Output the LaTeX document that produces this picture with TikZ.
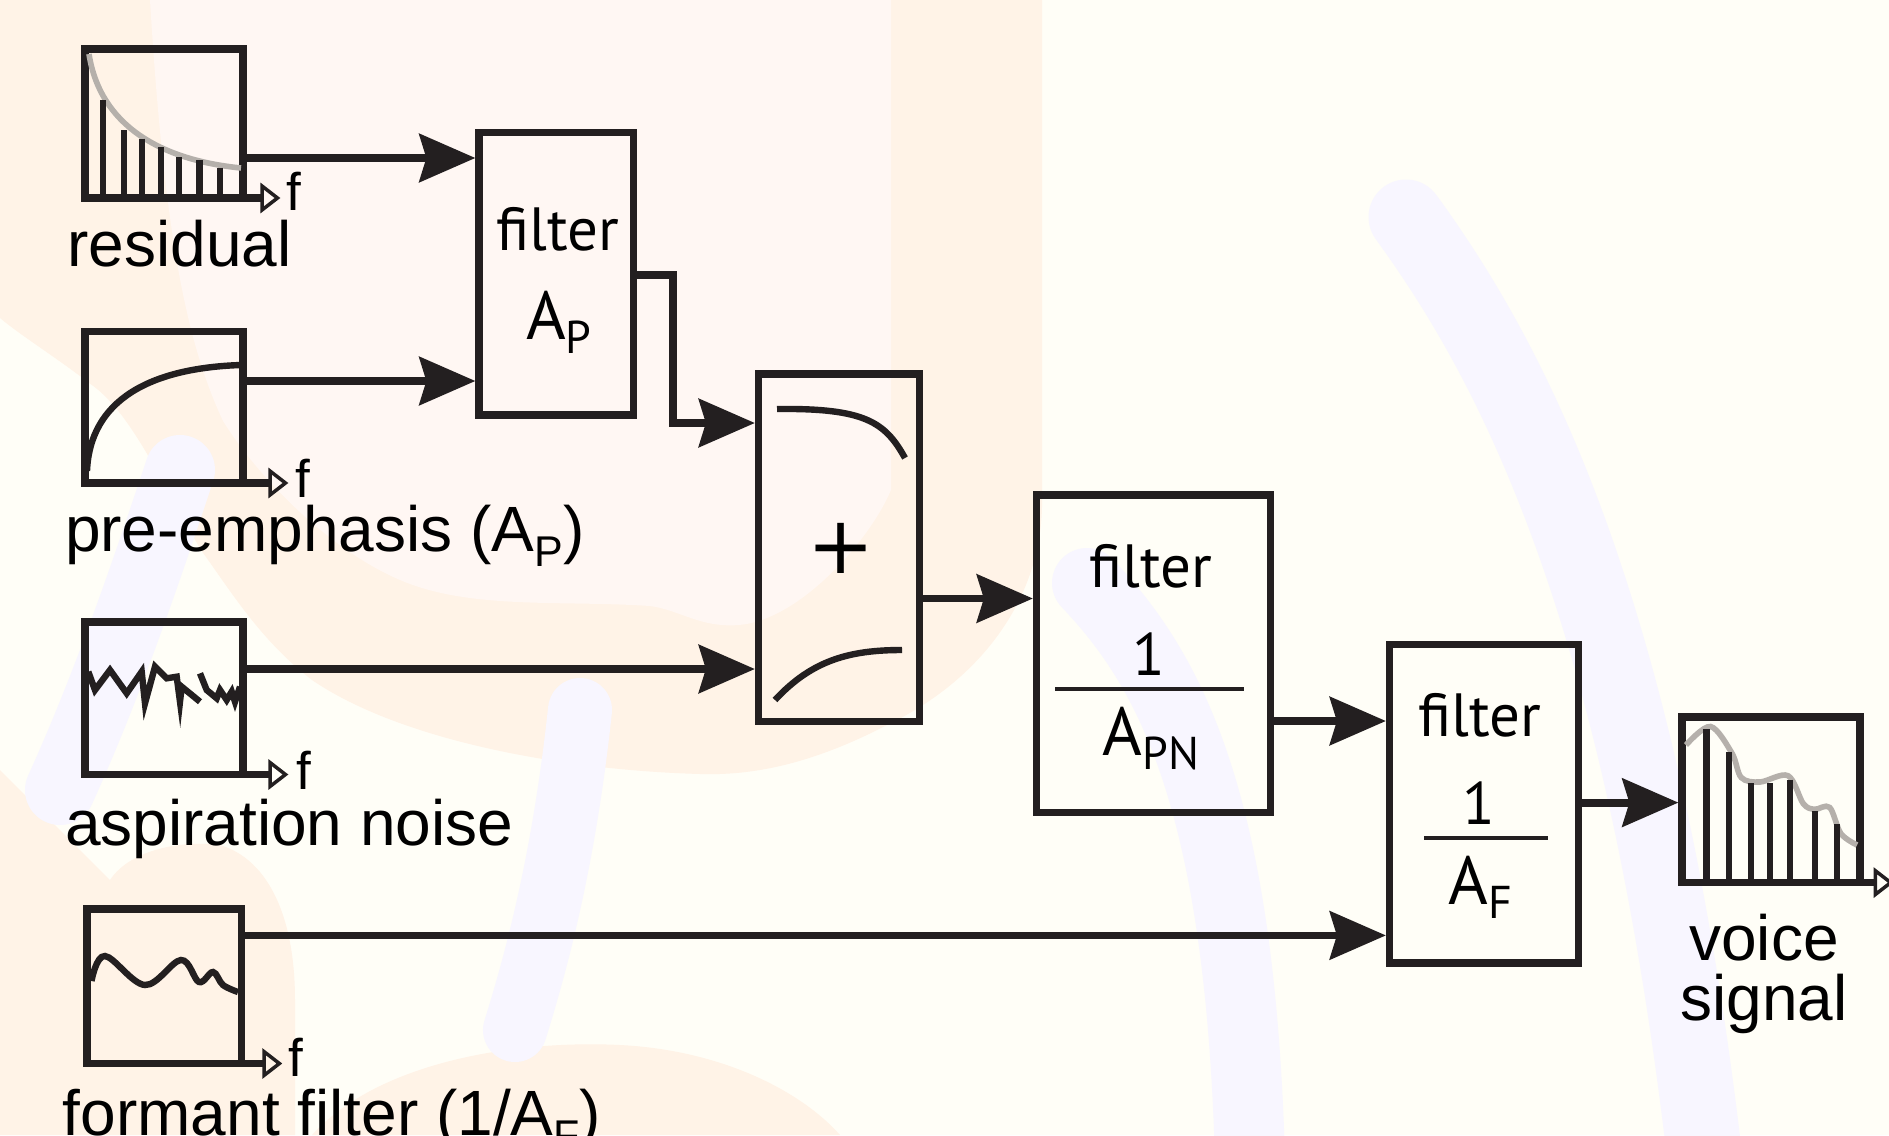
\documentclass[tikz,border=0pt]{standalone}
\usepackage{fontspec}
\newfontfamily\labelfont{Liberation Sans}
\newfontfamily\boxfont{PT Sans}
\newfontfamily\plusfont{DejaVu Sans}
\usetikzlibrary{arrows.meta,calc}
\definecolor{ink}{HTML}{231F20}
\definecolor{bgcream}{HTML}{FFFEF7}
\definecolor{peach}{HTML}{FFF3E7}
\definecolor{pinklight}{HTML}{FFF7F3}
\definecolor{lav}{HTML}{F8F6FF}
\definecolor{curvegray}{HTML}{B5B0AB}
\newcommand{\lsub}[1]{\raisebox{-7.5pt}{\fontsize{21.5}{21.5}\selectfont #1}}
\newcommand{\bsub}[1]{\raisebox{-7pt}{\fontsize{23}{23}\selectfont #1}}
\begin{document}
\begin{tikzpicture}[x=0.5pt,y=-0.5pt,
  box/.style={draw=ink,line width=3.6pt,inner sep=0pt},
  conn/.style={draw=ink,line width=3.9pt,-{Stealth[length=28pt,width=24pt,inset=3.5pt]}},
  faxis/.style={draw=ink,line width=3.6pt,-{Triangle[open,length=10pt,width=15pt,line width=1.75pt]}},
  sig/.style={draw=ink,line width=3.2pt},
  bar/.style={draw=ink,line width=3.1pt},
  graycurve/.style={draw=curvegray,line width=2.8pt},
  fracline/.style={draw=ink,line width=2pt},
  lbl/.style={font=\labelfont\fontsize{32}{30}\selectfont,inner sep=0pt,anchor=base west},
  flbl/.style={font=\labelfont\fontsize{26.5}{26}\selectfont,inner sep=0pt,anchor=base west},
  btxt/.style={font=\boxfont\fontsize{30.5}{30}\selectfont,inner sep=0pt,anchor=base},
  bsym/.style={font=\boxfont\fontsize{34}{34}\selectfont,inner sep=0pt,anchor=base},
  bnum/.style={font=\boxfont\fontsize{30}{30}\selectfont,inner sep=0pt,anchor=base},
  plusstyle/.style={font=\plusfont\fontsize{40}{40}\selectfont,inner sep=0pt,anchor=center},
  lavband/.style={draw=lav,line cap=round,line width=#1},
]
\useasboundingbox (0,0) rectangle (1889,1135);
% ---------- background ----------
\fill[bgcream] (0,0) rectangle (1889,1135);
\fill[peach] (0,0) -- (1042,0) -- (1042,507) .. controls (1040,600) and (980,680) .. (889,724)
  .. controls (820,760) and (760,776) .. (700,774) .. controls (560,770) and (400,740) .. (312,680)
  .. controls (260,640) and (230,590) .. (201,550) .. controls (160,480) and (130,410) .. (89,383)
  .. controls (60,360) and (20,335) .. (0,318) -- cycle;
\fill[pinklight] (150,0) -- (891,0) -- (891,490) .. controls (870,540) and (800,620) .. (739,625)
  .. controls (700,628) and (680,610) .. (650,606) .. controls (560,600) and (470,610) .. (400,580)
  .. controls (330,550) and (260,480) .. (223,421) .. controls (190,350) and (165,250) .. (150,0) -- cycle;
\fill[peach] (0,770) -- (110,880) .. controls (130,850) and (180,840) .. (220,845)
  .. controls (270,860) and (295,920) .. (295,1000) -- (295,1135) -- (0,1135) -- cycle;
\fill[peach] (312,1135) .. controls (380,1060) and (520,1040) .. (620,1045)
  .. controls (720,1050) and (800,1090) .. (840,1135) -- cycle;
\draw[lavband=37.5pt] (1406,217) .. controls (1510,360) and (1640,600) .. (1705,1160);
\draw[lavband=35pt] (1087,583) .. controls (1170,670) and (1240,800) .. (1250,1160);
\draw[lavband=35pt] (180,470) .. controls (150,560) and (110,680) .. (60,790);
\draw[lavband=32pt] (580,710) .. controls (565,850) and (540,950) .. (515,1030);
% ---------- boxes ----------
\node[box,minimum width=79pt,minimum height=74.5pt] (res) at (164,123.5) {};
\node[box,minimum width=79pt,minimum height=75.75pt] (pre) at (164,407.25) {};
\node[box,minimum width=79pt,minimum height=76.25pt] (asp) at (164,698.25) {};
\node[box,minimum width=77.25pt,minimum height=77.25pt] (form) at (164.25,986.25) {};
\node[box,minimum width=77.25pt,minimum height=141.25pt] (ap) at (556.25,273.75) {};
\node[box,minimum width=80.5pt,minimum height=173.75pt] (plus) at (839,547.75) {};
\node[box,minimum width=117pt,minimum height=158.75pt] (apn) at (1153.5,653.75) {};
\node[box,minimum width=94.5pt,minimum height=159.25pt] (af) at (1484,803.75) {};
\node[box,minimum width=89pt,minimum height=82.8pt] (voice) at (1771,799.8) {};
% ---------- pictograms ----------
\draw[graycurve] (89,54) .. controls (100,125) and (160,160) .. (241,168);
\foreach \x/\t in {102.7/100,123.7/130,142/138.5,160.7/147,178.6/157,199.5/160,219.6/167.6}
  \draw[bar] (\x,\t) -- (\x,198);
\draw[sig] (87,471) .. controls (90,400) and (150,368) .. (241,365);
\draw[sig,line join=miter] plot coordinates {(88.3,671.7) (95,690) (110,670) (126.7,693.3) (141.7,671.7) (145,703.3) (155,666.7) (166.7,678.3) (176.7,676.7) (180,701.7) (181.7,686.7) (200,701.7)};
\draw[sig,line join=miter] plot coordinates {(200,673.3) (206.7,690) (216.7,698.3) (220,690) (226.7,700) (231.7,691.7) (235,701.7) (240,686.7)};
\draw[sig] plot[smooth,tension=0.6] coordinates {(91.5,981) (105,956) (145,985) (181,960) (199,982) (213,972) (223,985) (238,992)};
\draw[sig] (777,409) .. controls (865,408) and (885,422) .. (905,458);
\draw[sig] (775,700) .. controls (812,660) and (850,650) .. (902,650);
\draw[graycurve] plot[smooth,tension=0.55] coordinates {(1686,745) (1710.5,726.5) (1732,753.3) (1741.3,777.6) (1760,782) (1788,775.7) (1803.3,803.7) (1814.6,809.3) (1829.6,807.4) (1840.9,833.6) (1857,845)};
\foreach \x/\t in {1706.4/729,1729.3/751.5,1750.7/783,1770.3/783,1790.2/779.5,1815.3/811,1837.1/824}
  \draw[bar] (\x,\t) -- (\x,882);
% ---------- frequency axes ----------
\coordinate (res-f) at ([yshift=1.8pt,xshift=16.9pt]res.south east);
\coordinate (pre-f) at ([yshift=1.8pt,xshift=20.9pt]pre.south east);
\coordinate (asp-f) at ([yshift=1.8pt,xshift=20.9pt]asp.south east);
\coordinate (form-f) at ([yshift=1.8pt,xshift=18.6pt]form.south east);
\coordinate (voice-f) at ([yshift=1.8pt,xshift=15pt]voice.south east);
\draw[faxis] ([yshift=1.8pt,xshift=-1.8pt]res.south east) -- (res-f);
\draw[faxis] ([yshift=1.8pt,xshift=-1.8pt]pre.south east) -- (pre-f);
\draw[faxis] ([yshift=1.8pt,xshift=-1.8pt]asp.south east) -- (asp-f);
\draw[faxis] ([yshift=1.8pt,xshift=-1.8pt]form.south east) -- (form-f);
\draw[faxis] ([yshift=1.8pt,xshift=-1.8pt]voice.south east) -- (voice-f);
\node[flbl] (res-fl) at ([xshift=3pt,yshift=-6pt]res-f) {f};
\node[flbl] (pre-fl) at ([xshift=3.3pt,yshift=-7pt]pre-f) {f};
\node[flbl] (asp-fl) at ([xshift=3.7pt,yshift=-7.7pt]asp-f) {f};
\node[flbl] (form-fl) at ([xshift=3pt,yshift=-6.3pt]form-f) {f};
% ---------- connectors ----------
\coordinate (ap-in1) at (ap.west |- 0,158);
\coordinate (ap-in2) at (ap.west |- 0,381);
\coordinate (ap-out) at (ap.east |- 0,275);
\coordinate (plus-in1) at (plus.west |- 0,423);
\coordinate (plus-in2) at (plus.west |- 0,669);
\coordinate (plus-out) at (plus.east |- 0,598.5);
\coordinate (apn-out) at (apn.east |- 0,721);
\coordinate (af-in2) at (af.west |- 0,935.4);
\coordinate (af-out) at (af.east |- 0,802.6);
\draw[conn] (res.east |- ap-in1) -- (ap-in1);
\draw[conn] (pre.east |- ap-in2) -- (ap-in2);
\draw[conn] (ap-out) -- ++(36,0) |- (plus-in1);
\draw[conn] (asp.east |- plus-in2) -- (plus-in2);
\draw[conn] (plus-out) -- (apn.west |- plus-out);
\draw[conn] (apn-out) -- (af.west |- apn-out);
\draw[conn] (form.east |- af-in2) -- (af-in2);
\draw[conn] (af-out) -- (voice.west |- af-out);
% ---------- box texts ----------
\node[btxt] (ap-t1) at (558,250) {filter};
\node[bsym] (ap-t2) at (558.75,339) {A\bsub{P}};
\node[plusstyle] (plus-t) at (840.7,548.7) {+};
\node[btxt] (apn-t1) at (1150.5,587) {filter};
\node[bnum] (apn-t2) at (1149,675) {1};
\draw[fracline] (1055,689.2) -- (1244,689.2);
\node[bsym] (apn-t3) at (1151,755) {A\bsub{PN}};
\node[btxt] (af-t1) at (1480,736) {filter};
\node[bnum] (af-t2) at (1478.5,824) {1};
\draw[fracline] (1424,838.4) -- (1548,838.4);
\node[bsym] (af-t3) at (1480.75,904) {A\bsub{F}};
% ---------- labels ----------
\node[lbl] (res-lbl) at (67,266) {residual};
\node[lbl] (pre-lbl) at (64.7,551) {pre-emphasis (A\lsub{P})};
\node[lbl] (asp-lbl) at (64.7,845) {aspiration noise};
\node[lbl] (form-lbl) at (62.5,1135) {formant filter (1/A\lsub{F})};
\node[lbl,anchor=base] (voice-lbl1) at (1764,960) {voice};
\node[lbl,anchor=base] (voice-lbl2) at (1764,1020) {signal};
\end{tikzpicture}
\end{document}
